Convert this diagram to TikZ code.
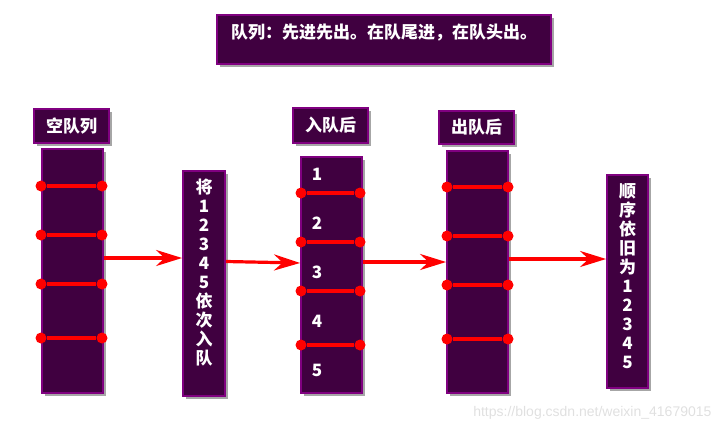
\documentclass[tikz,border=0pt]{standalone}
\usepackage{fontspec}
\setmainfont{Noto Sans CJK SC}
\newfontfamily\wmfont{Liberation Sans}
\usetikzlibrary{arrows.meta, shadows}
\definecolor{qfill}{RGB}{64,0,64}
\definecolor{qborder}{RGB}{128,0,128}
\definecolor{qred}{RGB}{255,0,0}

\tikzset{
  qbox/.style={draw=qborder, fill=qfill, line width=1.8pt,
    drop shadow={shadow xshift=3pt, shadow yshift=-3pt, fill=black, opacity=0.35}},
  qtext/.style={text=white, font=\fontsize{17pt}{19pt}\selectfont\bfseries, inner sep=0pt},
  qdot/.style={circle, fill=qred, inner sep=0pt, minimum size=11pt},
  qline/.style={draw=qred, line width=3.2pt},
  qarrow/.style={draw=qred, line width=3.2pt, -{Stealth[length=26pt, width=16pt]}},
}

\begin{document}
\begin{tikzpicture}[x=1pt, y=-1pt]
\useasboundingbox (0,0) rectangle (725,431);

% titre
\node[qbox, minimum width=334pt, minimum height=49pt] (title) at (384,39.5) {};
\node[qtext, anchor=west] (titletext) at (231,33) {队列：先进先出。在队尾进，在队头出。};

% file vide
\node[qbox, qtext, minimum width=75pt, minimum height=34pt] (lblE) at (71.5,126) {空队列};
\node[qbox, minimum width=61pt, minimum height=244pt] (colE) at (72.5,271) {};
\foreach \y [count=\i] in {186,235,284,338} {
  \node[qdot] (eL\i) at (41,\y) {};
  \node[qdot] (eR\i) at (102,\y) {};
  \draw[qline] (eL\i) -- (eR\i);
}

% boite 1
\node[qbox, minimum width=42pt, minimum height=225pt] (push) at (204,283.5) {};
\node[qtext, anchor=north, align=center] (pushtext) at ([yshift=-9pt]push.north)
  {将\\1\\2\\3\\4\\5\\依\\次\\入\\队};

% apres entree
\node[qbox, qtext, minimum width=75pt, minimum height=35pt] (lblIn) at (330.5,125.5) {入队后};
\node[qbox, minimum width=61pt, minimum height=236pt] (colIn) at (331.5,275) {};
\foreach \y [count=\i] in {193,242,291,345} {
  \node[qdot] (iL\i) at (301,\y) {};
  \node[qdot] (iR\i) at (360,\y) {};
  \draw[qline] (iL\i) -- (iR\i);
}
\foreach \n/\y in {1/174,2/223,3/272,4/321,5/370}
  \node[qtext] (num\n) at (317,\y) {\n};

% apres sortie
\node[qbox, qtext, minimum width=75pt, minimum height=33pt] (lblOut) at (476.5,127.5) {出队后};
\node[qbox, minimum width=61pt, minimum height=242pt] (colOut) at (477.5,272) {};
\foreach \y [count=\i] in {187,236,285,339} {
  \node[qdot] (oL\i) at (447,\y) {};
  \node[qdot] (oR\i) at (508,\y) {};
  \draw[qline] (oL\i) -- (oR\i);
}

% boite 2
\node[qbox, minimum width=41pt, minimum height=213pt] (order) at (627.5,281.5) {};
\node[qtext, anchor=north, align=center] (ordertext) at ([yshift=-9pt]order.north)
  {顺\\序\\依\\旧\\为\\1\\2\\3\\4\\5};

% fleches
\draw[qarrow] ([yshift=13pt]colE.east) -- ([yshift=13pt]colE.east -| push.west);
\draw[qarrow] ([yshift=22pt]push.east) -- ([yshift=12pt]colIn.west);
\draw[qarrow] ([yshift=13pt]colIn.east) -- ([yshift=13pt]colIn.east -| colOut.west);
\draw[qarrow] ([yshift=13pt]colOut.east) -- ([yshift=13pt]colOut.east -| order.west);

\node[font=\wmfont\fontsize{14pt}{16pt}\selectfont, text=black!12, anchor=east] (mark) at (715,413)
  {https://blog.csdn.net/weixin\_41679015};
\end{tikzpicture}
\end{document}
